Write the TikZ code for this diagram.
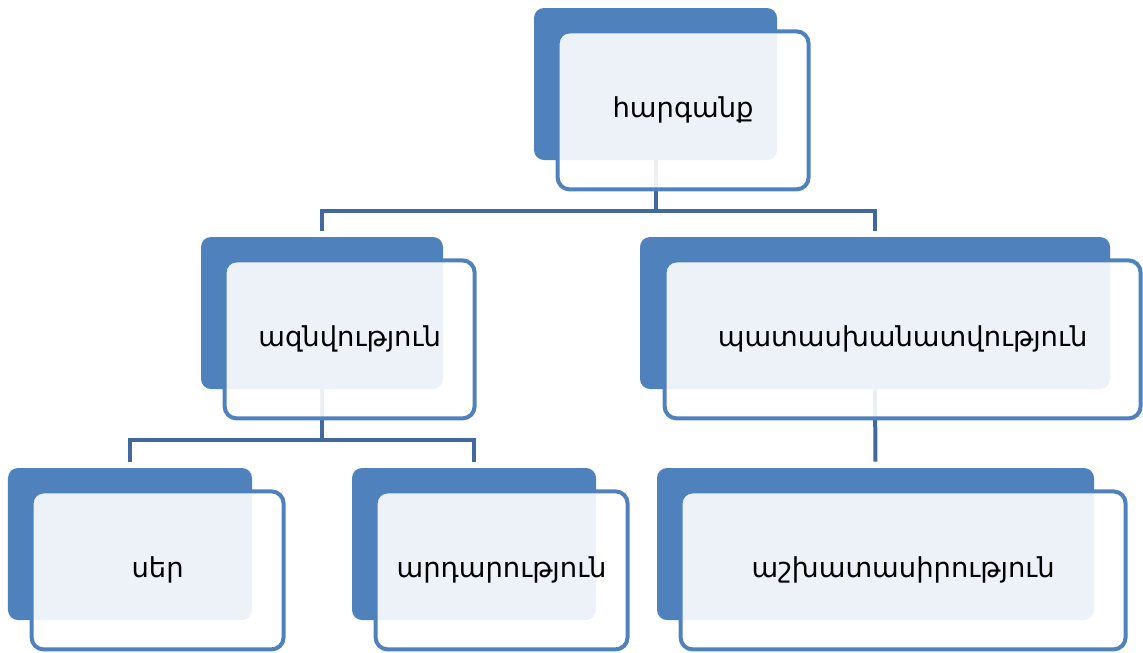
\documentclass[tikz,border=0pt]{standalone}
\usepackage{fontspec}
\setmainfont{DejaVu Sans}
\usetikzlibrary{positioning}

\definecolor{boxblue}{RGB}{79,129,189}
\definecolor{linkblue}{RGB}{65,105,157}

\tikzset{
  backbox/.style={rectangle, rounded corners=0.25cm, fill=boxblue, inner sep=0pt, minimum height=3.8cm},
  frontbox/.style={rectangle, rounded corners=0.3cm, draw=boxblue, line width=0.1cm, fill=white, fill opacity=0.9, text opacity=1, inner sep=0pt, minimum height=3.95cm, font=\fontsize{19.5}{24}\selectfont},
  link/.style={draw=linkblue, line width=0.1cm, shorten >=0.15cm}
}

\begin{document}
\begin{tikzpicture}
\useasboundingbox (0,0) rectangle (28.575,-16.3);
% back boxes
\node[backbox, minimum width=6.075cm] (top) at (16.3875,-2.1) {};
\node[backbox, minimum width=6.05cm] (midl) at (8.05,-7.825) {};
\node[backbox, minimum width=11.75cm] (midr) at (21.875,-7.825) {};
\node[backbox, minimum width=6.1cm] (botl) at (3.25,-13.6) {};
\node[backbox, minimum width=6.1cm] (botm) at (11.85,-13.6) {};
\node[backbox, minimum width=10.925cm] (botr) at (21.8875,-13.6) {};
% connectors
\coordinate (topbar) at (16.3875,-5.275);
\coordinate (midbar) at (8.05,-11.0);
\draw[link] (top.south) -- (topbar) -| (midl.north);
\draw[link] (topbar) -| (midr.north);
\draw[link] (midl.south) -- (midbar) -| (botl.north);
\draw[link] (midbar) -| (botm.north);
\draw[link] (midr.south) -- (botr.north);
% front boxes
\node[frontbox, minimum width=6.275cm] (top-f) at ([shift={(0.69,-0.66)}]top.center) {հարգանք};
\node[frontbox, minimum width=6.25cm] (midl-f) at ([shift={(0.69,-0.66)}]midl.center) {ազնվություն};
\node[frontbox, minimum width=11.9cm] (midr-f) at ([shift={(0.69,-0.66)}]midr.center) {պատասխանատվություն};
\node[frontbox, minimum width=6.3cm] (botl-f) at ([shift={(0.69,-0.66)}]botl.center) {սեր};
\node[frontbox, minimum width=6.3cm] (botm-f) at ([shift={(0.69,-0.66)}]botm.center) {արդարություն};
\node[frontbox, minimum width=11.125cm] (botr-f) at ([shift={(0.69,-0.66)}]botr.center) {աշխատասիրություն};
\end{tikzpicture}
\end{document}
